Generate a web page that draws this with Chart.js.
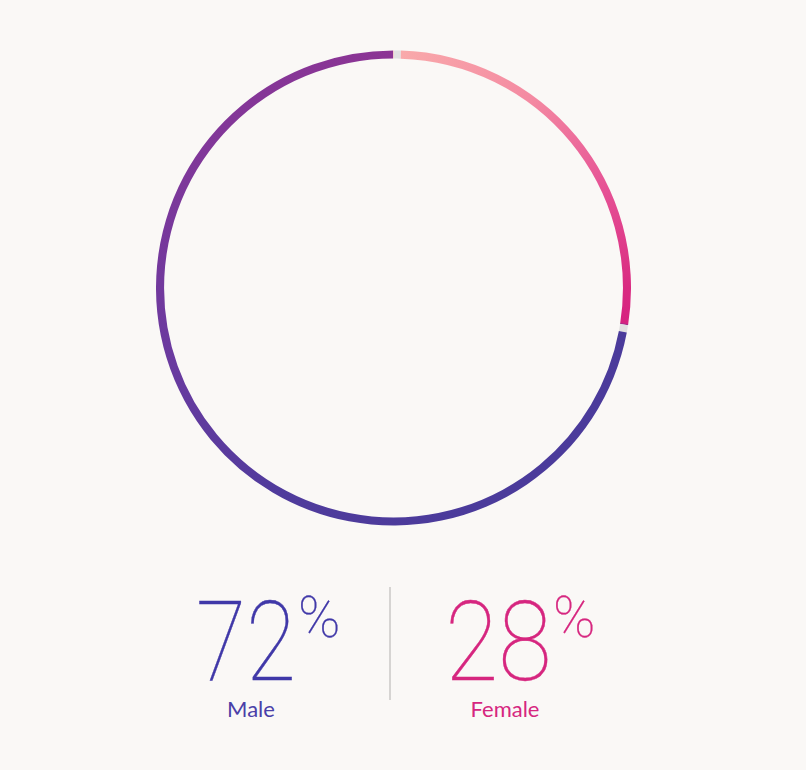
<!DOCTYPE html>
<html>
<head>
<meta charset="utf-8">
<script src="https://cdn.jsdelivr.net/npm/chart.js@4/dist/chart.umd.min.js"></script>
<style>
  html, body { margin: 0; padding: 0; background: #faf8f6; width: 806px; height: 770px; overflow: hidden; }
  #wrap { position: absolute; left: 156px; top: 50px; width: 475px; height: 476px; }
  .big { position: absolute; font-family: 'Roboto', sans-serif; font-weight: 100; font-size: 112px; line-height: 1; white-space: nowrap; transform-origin: left top; -webkit-text-stroke: 0.4px currentColor; }
  .pct { position: absolute; font-family: 'Roboto', sans-serif; font-weight: 100; font-size: 57px; line-height: 1; -webkit-text-stroke: 0.3px currentColor; }
  .lab { position: absolute; font-family: 'Lato', 'Noto Sans', sans-serif; font-size: 22px; line-height: 1; text-align: center; width: 120px; }
  #divider { position: absolute; left: 389px; top: 587px; width: 2px; height: 113px; background: #d6d4d2; }
</style>
</head>
<body>
<div id="wrap"><canvas id="c"></canvas></div>
<div id="divider"></div>
<div class="big" id="v0" style="left:196px; top:586px; color:#4038a8; transform:scaleX(0.815);"></div>
<div class="pct" id="p0" style="left:298px; top:589px; color:#4038a8;">%</div>
<div class="lab" id="l0" style="left:191px; top:698px; color:#4a3fa8;"></div>
<div class="big" id="v1" style="left:445px; top:586px; color:#d6267f; transform:scaleX(0.87);"></div>
<div class="pct" id="p1" style="left:553px; top:589px; color:#d6267f;">%</div>
<div class="lab" id="l1" style="left:445px; top:698px; color:#d6267f;"></div>
<script>
const categories = ['Female', 'Male'];
const percentages = [28, 72];
const separatorSize = 0.5;
const labelOrder = ['Male', 'Female'];

// text
const byName = {};
categories.forEach((c, i) => byName[c] = percentages[i]);
labelOrder.forEach((name, i) => {
  document.getElementById('v' + i).textContent = byName[name];
  document.getElementById('l' + i).textContent = name;
});

// ring data: thin grey separators at 12 o'clock and at the end of the female arc
const ringData = [separatorSize, percentages[0] - 2 * separatorSize, separatorSize, percentages[1]];
const ringKinds = ['sep', 'val', 'sep', 'val'];
const ringLabels = ['sep', categories[0], 'sep', categories[1]];

function ringGradient(ctx) {
  const chart = ctx.chart;
  const a = chart.chartArea;
  if (!a) return '#888';
  const cx = (a.left + a.right) / 2, cy = (a.top + a.bottom) / 2;
  const g = chart.ctx.createConicGradient(-Math.PI / 2, cx, cy);
  g.addColorStop(0.00, '#f9abab');
  g.addColorStop(0.10, '#f48aa2');
  g.addColorStop(0.18, '#e65295');
  g.addColorStop(0.25, '#d92a81');
  g.addColorStop(0.274, '#d62380');
  g.addColorStop(0.276, '#4b3b9b');
  g.addColorStop(0.45, '#4b3b9b');
  g.addColorStop(0.58, '#4f3b9c');
  g.addColorStop(0.70, '#6a3a9f');
  g.addColorStop(0.85, '#813799');
  g.addColorStop(1.00, '#8c3494');
  return g;
}

new Chart(document.getElementById('c'), {
  type: 'doughnut',
  data: {
    labels: ringLabels,
    datasets: [{
      data: ringData,
      backgroundColor: (ctx) => ringKinds[ctx.dataIndex] === 'sep' ? '#e2e0e1' : ringGradient(ctx),
      borderWidth: 0,
      hoverOffset: 0
    }]
  },
  options: {
    responsive: true,
    maintainAspectRatio: false,
    animation: false,
    cutout: '96.6%',
    radius: '100%',
    layout: { padding: 0 },
    plugins: { legend: { display: false }, tooltip: { enabled: false } },
    events: []
  }
});
</script>
</body>
</html>
